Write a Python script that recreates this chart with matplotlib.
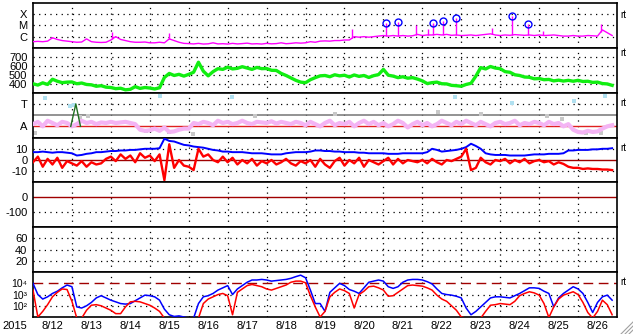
import numpy as np
import matplotlib
matplotlib.use('Agg')
import matplotlib.pyplot as plt
from matplotlib.lines import Line2D

plt.rcParams['font.family'] = ['Liberation Sans', 'DejaVu Sans']

# ---- data (3-hour steps, day 0 = 8/12 00:00) ----
year_label = "2015"
day_labels = ["8/12", "8/13", "8/14", "8/15", "8/16", "8/17", "8/18", "8/19",
              "8/20", "8/21", "8/22", "8/23", "8/24", "8/25", "8/26"]

# X-ray flux, log10 W/m2
xray_log = [-6.45, -6.42, -6.45, -6.4, -6.1, -6.25, -6.35, -6.4,
            -6.45, -6.5, -6.48, -6.2, -6.45, -6.5, -6.52, -6.5,
            -6.3, -6.0, -6.25, -6.35, -6.45, -6.5, -6.5, -6.48,
            -6.55, -6.55, -6.5, -6.55, -6.2, -6.35, -6.5, -6.6,
            -6.62, -6.65, -6.6, -6.66, -6.64, -6.55, -6.65, -6.63,
            -6.66, -6.6, -6.65, -6.62, -6.58, -6.65, -6.63, -6.66,
            -6.6, -6.64, -6.62, -6.55, -6.63, -6.6, -6.55, -6.58,
            -6.55, -6.45, -6.5, -6.4, -6.38, -6.4, -6.35, -6.35,
            -6.3, -6.3, -6.0, -6.05, -6.0, -6.05, -6.0, -5.95,
            -5.9, -5.95, -5.9, -5.95, -5.9, -5.95, -5.92, -5.8,
            -5.9, -5.85, -5.85, -5.8, -5.85, -5.8, -5.88, -5.85,
            -5.9, -5.88, -5.85, -5.9, -5.85, -5.8, -5.75, -5.85,
            -5.9, -5.85, -5.88, -5.82, -5.85, -5.88, -5.85, -5.9,
            -5.85, -5.9, -5.88, -5.85, -5.9, -5.95, -5.95, -5.9,
            -5.95, -5.95, -5.9, -5.92, -5.95, -5.4, -5.65, -5.9]
spike_day = [0.49, 2.03, 2.1, 3.49, 8.19, 9.84, 10.15, 11.79, 13.1, 14.59]
spike_peak = [-6.05, -5.6, -5.9, -5.67, -5.34, -4.95, -5.3, -5.25, -5.5, -4.9]
flare_day = [9.07, 9.38, 10.27, 10.53, 10.87, 12.30, 12.72]
flare_peak = [-4.78, -4.69, -4.78, -4.6, -4.33, -4.16, -4.87]

# solar wind speed, km/s
wind_speed = [400, 385, 410, 392, 450, 428, 412, 418,
              420, 400, 408, 392, 388, 372, 378, 362,
              358, 345, 350, 332, 338, 368, 348, 358,
              352, 342, 355, 470, 515, 492, 505, 485,
              505, 528, 640, 540, 488, 535, 568, 560,
              585, 565, 572, 590, 575, 560, 582, 568,
              570, 550, 548, 515, 492, 465, 438, 418,
              412, 445, 468, 488, 492, 478, 500, 488,
              495, 475, 498, 482, 492, 470, 490, 502,
              560, 495, 485, 468, 478, 462, 468, 452,
              432, 402, 412, 418, 400, 398, 382, 378,
              372, 392, 405, 485, 580, 565, 592, 575,
              568, 535, 528, 500, 492, 475, 472, 455,
              458, 445, 448, 432, 440, 430, 438, 428,
              438, 425, 428, 415, 418, 402, 398, 382]

# activity index (A..T scale)
activity = [1.2, 1.4, 1.0, 1.5, 1.3, 1.1, 1.4, 1.3,
            1.0, 1.2, 1.5, 1.3, 1.4, 1.2, 1.35, 1.3,
            1.4, 1.3, 1.35, 1.4, 1.3, 1.2, 0.7, 0.6,
            0.65, 0.8, 0.6, 0.9, 0.5, 0.55, 0.7, 0.8,
            0.8, 1.3, 1.2, 1.4, 1.3, 1.1, 1.5, 1.3,
            1.4, 1.2, 1.3, 1.5, 1.3, 1.2, 1.4, 1.35,
            1.3, 1.45, 1.25, 1.4, 1.3, 1.2, 1.4, 1.3,
            1.1, 1.4, 1.2, 1.0, 1.3, 1.5, 1.1, 1.3,
            1.2, 1.4, 1.0, 1.3, 1.5, 1.2, 1.4, 1.1,
            1.3, 1.0, 1.2, 1.5, 1.3, 0.9, 1.2, 1.4,
            1.1, 1.3, 1.0, 1.2, 1.5, 1.3, 1.1, 1.4,
            1.2, 1.5, 1.3, 1.1, 1.4, 1.2, 1.0, 1.3,
            1.4, 1.2, 1.3, 1.5, 1.1, 1.3, 1.2, 1.4,
            1.3, 1.1, 1.4, 1.2, 1.3, 1.0, 1.2, 0.7,
            0.5, 0.45, 0.6, 0.5, 0.55, 0.8, 1.0, 1.1]
gray_day = [0.05, 1.2, 1.4, 2.9, 3.5, 4.1, 5.7, 7.75, 10.4, 11.5, 13.2, 13.6, 14.2, 14.6]
gray_val = [0.4, 1.8, 1.9, 0.6, 0.5, 0.3, 1.9, 2.1, 2.3, 2.1, 1.9, 1.7, 0.4, 0.4]
blue_day = [0.3, 0.95, 1.05, 3.26, 5.1, 10.85, 12.3, 13.9, 14.7]
blue_val = [3.5, 2.8, 2.9, 3.7, 3.6, 3.6, 3.1, 3.3, 3.7]
green_day = [0.97, 1.1, 1.22]
green_val = [1.0, 3.0, 1.0]

# IMF Bt and Bz, nT
imf_bt = [7, 7, 7.5, 7, 6.5, 7, 7, 6.5,
          6, 4, 4.5, 5.5, 6, 7, 7, 7.5,
          8, 8, 8.5, 8.5, 9, 9, 9.5, 10,
          10, 10, 10.5, 19, 17, 16.5, 15, 13.5,
          13, 12, 11.5, 11, 10, 9, 8.5, 7.5,
          7.5, 7, 7, 7, 6.5, 6, 6, 6,
          5.5, 5, 5, 5, 6, 6.5, 7, 7,
          7, 7.5, 8.5, 8.5, 8, 8, 7.5, 7.5,
          7, 7, 7, 6.5, 6.5, 6, 6, 6,
          6, 5.5, 5.5, 5.5, 6, 6, 6, 6,
          6, 7, 10, 9, 7.5, 8, 8.5, 9,
          10, 11.5, 14.5, 12.5, 10, 6, 5, 4.5,
          4.5, 4.5, 4, 4, 4, 4, 4.5, 5,
          5, 5, 5.5, 5.5, 5.5, 6, 8.5, 8.5,
          9, 9, 9, 9.5, 9.5, 10, 10, 10.5]
imf_bz = [-2, 3, -6, 1, -4, 2, -7, -1,
          -3, -5, -1, -6, -2, -4, -3, 1,
          3, -1, 5, 1, 4, -2, 6, 2,
          4, -1, 5, -18, 14, -7, 0, -5,
          -6, -9, 10, 3, 5, 0, -2, 3,
          -2, 2, -4, 0, -3, 1, -5, -1,
          -3, 0, -4, -2, 1, -3, -5, -1,
          -3, 0, -6, 1, -4, -7, -1, 2,
          -5, 0, -3, 2, -6, 0, -2, -4,
          -1, 2, -4, 1, -3, 0, -1, -2,
          0, -3, 1, -2, -4, 0, -1, 1,
          3, 10, -9, -7, 2, -2, -4, 0,
          -1, 1, -3, 0, -2, 1, -3, -1,
          0, -2, -1, -4, -2, -3.5, -6, -7,
          -7, -8, -7.5, -8, -8, -8.5, -8.5, -9]

# electron flux, log10
elec_hi = [4.0, 3.0, 2.6, 2.8, 3.1, 3.3, 3.6, 3.85,
           3.7, 1.9, 1.8, 2.0, 2.3, 2.7, 2.9, 2.7,
           2.5, 2.35, 2.2, 2.15, 2.2, 2.45, 2.7, 2.95,
           2.9, 2.8, 2.5, 1.7, 1.2, 1.05, 1.1, 1.0,
           0.9, 0.9, 2.2, 2.8, 2.9, 3.1, 3.4, 3.6,
           3.8, 3.0, 3.5, 3.8, 4.1, 4.3, 4.3, 4.35,
           4.3, 4.2, 4.25, 4.3, 4.35, 4.45, 4.6, 4.73,
           4.5, 3.4, 2.2, 2.2, 1.5, 3.2, 3.6, 4.0,
           3.8, 3.45, 3.3, 3.1, 3.6, 4.1, 4.2, 4.3,
           4.2, 3.7, 3.55, 3.7, 4.1, 4.3, 4.35, 4.35,
           4.3, 4.15, 3.95, 3.5, 3.1, 3.0, 2.95, 2.85,
           2.7, 1.8, 1.2, 1.5, 1.9, 2.3, 2.7, 2.8,
           2.8, 2.75, 2.7, 2.9, 3.1, 3.35, 3.6, 3.6,
           3.55, 3.3, 3.1, 1.9, 2.7, 3.1, 3.4, 3.7,
           3.5, 3.1, 2.3, 1.4, 2.3, 2.8, 2.95, 2.5]
elec_lo = [3.4, 1.0, 1.5, 2.1, 2.8, 3.2, 3.5, 3.45,
           2.4, 0.9, 0.9, 1.6, 2.05, 2.1, 2.0, 1.8,
           1.6, 1.3, 1.3, 1.9, 2.35, 2.4, 2.35, 2.2,
           2.05, 1.8, 1.5, 0.9, 0.9, 0.9, 0.9, 0.9,
           0.9, 0.9, 0.9, 2.2, 2.6, 2.8, 3.0, 3.1,
           2.9, 1.2, 3.2, 3.5, 3.8, 3.9, 3.8, 3.7,
           3.5, 3.4, 3.55, 3.7, 3.85, 4.1, 4.2, 4.2,
           4.05, 2.9, 1.9, 1.0, 1.5, 2.8, 3.2, 3.5,
           3.35, 3.1, 1.8, 3.0, 3.3, 3.7, 3.75, 3.6,
           3.4, 2.85, 2.9, 3.2, 3.5, 3.8, 3.85, 3.8,
           3.75, 3.6, 3.4, 2.95, 2.6, 2.4, 2.0, 1.6,
           1.0, 0.9, 0.9, 0.9, 0.9, 1.5, 2.05, 2.1,
           2.2, 2.15, 2.1, 2.4, 2.9, 3.1, 3.25, 3.15,
           2.95, 2.2, 0.95, 1.9, 2.6, 2.95, 3.1, 3.25,
           3.0, 2.3, 1.4, 0.9, 1.5, 2.5, 2.1, 1.2]

t = np.arange(len(wind_speed)) * 0.125

# ---- layout ----
W, H = 633, 334
fig = plt.figure(figsize=(W / 100, H / 100), dpi=100)
left, right, top, bottom = 33, 617, 3, 317
npan = 7
ph = (bottom - top) / npan

DOT = dict(color='black', lw=0.9, ls=(0, (1, 3.5)), zorder=1)
DARKRED = '#a00000'


def make_panel(k, ylim, ticks, labels, size=8):
    y0 = top + k * ph
    ax = fig.add_axes([left / W, 1 - (y0 + ph) / H, (right - left) / W, ph / H])
    ax.set_xlim(0, 15)
    ax.set_ylim(*ylim)
    ax.set_yticks(ticks)
    ax.set_yticklabels(labels)
    ax.set_xticks([])
    ax.tick_params(length=0, labelsize=size, pad=4)
    for s in ax.spines.values():
        s.set_linewidth(1.2)
    for d in range(1, 15):
        ax.axvline(d, **DOT)
    return ax


def rt(ax, y):
    ax.text(1.006, y, 'rt', transform=ax.get_yaxis_transform(),
            fontsize=7, va='center', ha='left')


# panel 1: X-ray
ax1 = make_panel(0, (-7, -3), [-6, -5, -4], ['C', 'M', 'X'])
for v in [-6, -5, -4]:
    ax1.axhline(v, **DOT)
ax1.plot(t, xray_log, color='#ff00ff', lw=1, zorder=3)
ax1.vlines(spike_day, np.interp(spike_day, t, xray_log), spike_peak,
           color='#ff00ff', lw=1, zorder=3)
ax1.vlines(flare_day, np.interp(flare_day, t, xray_log), flare_peak,
           color='#ff00ff', lw=1, zorder=3)
ax1.plot(flare_day, flare_peak, 'o', mfc='none', mec='#0000ff', ms=5, mew=1, zorder=4)
rt(ax1, -4.1)

# panel 2: solar wind
ax2 = make_panel(1, (300, 800), [400, 500, 600, 700], ['400', '500', '600', '700'])
for v in [400, 500, 600, 700]:
    ax2.axhline(v, **DOT)
ax2.plot(t, wind_speed, color='#11ee11', lw=2.4, zorder=3)
rt(ax2, 745)

# panel 3: activity
ax3 = make_panel(2, (0, 4), [1, 3], ['A', 'T'])
ax3.axhline(3, **DOT)
ax3.axhline(2, color='#808080', lw=1.2, zorder=2)
ax3.axhline(1, color='#e02020', lw=1, zorder=2)
ax3.plot(gray_day, gray_val, 's', color='#c8c8c8', ms=2.5, mew=0, zorder=2)
ax3.plot(blue_day, blue_val, 's', color='#b0e0f0', ms=3, mew=0, zorder=2)
ax3.plot(t, activity, color='#f4b4f4', lw=3, zorder=3)
ax3.plot(green_day, green_val, color='#207020', lw=1, zorder=4)
rt(ax3, 3.1)

# panel 4: IMF
ax4 = make_panel(3, (-20, 20), [-10, 0, 10], ['-10', '0', '10'])
for v in [-10, 10]:
    ax4.axhline(v, **DOT)
ax4.axhline(0, color=DARKRED, lw=1, zorder=2)
ax4.plot(t, imf_bt, color='#0000ff', lw=1.4, zorder=3)
ax4.plot(t, imf_bz, color='#ff0000', lw=1.7, zorder=3)
rt(ax4, 11)

# panel 5
ax5 = make_panel(4, (-200, 100), [-100, 0], ['-100', '0'])
ax5.axhline(-100, **DOT)
ax5.axhline(0, color=DARKRED, lw=1, zorder=2)

# panel 6
ax6 = make_panel(5, (0, 80), [20, 40, 60], ['20', '40', '60'])
for v in [20, 40, 60]:
    ax6.axhline(v, **DOT)

# panel 7: electrons
ax7 = make_panel(6, (1, 5), [2, 3, 4], ['10\u00b2', '10\u00b3', '10\u2074'], size=7.5)
for v in [2, 3]:
    ax7.axhline(v, **DOT)
ax7.axhline(4, color=DARKRED, lw=1, ls=(0, (7, 4)), zorder=2)
ax7.plot(t, elec_hi, color='#0000ff', lw=1.1, zorder=3)
ax7.plot(t, elec_lo, color='#ff0000', lw=1.1, zorder=3)
rt(ax7, 4.15)
ax7.set_xticks(np.arange(len(day_labels)) + 0.5)
ax7.set_xticklabels(day_labels)
ax7.tick_params(axis='x', length=0, labelsize=8, pad=3)

fig.text(15 / W, 1 - 326 / H, year_label, fontsize=8, ha='center', va='center')

# resize grip in the corner
for k in [4, 8, 12]:
    fig.add_artist(Line2D([(W - k) / W, 1.0], [0.0, k / H], color='#a0a0a0',
                          lw=0.8, transform=fig.transFigure))

fig.savefig('out.png', dpi=100)
